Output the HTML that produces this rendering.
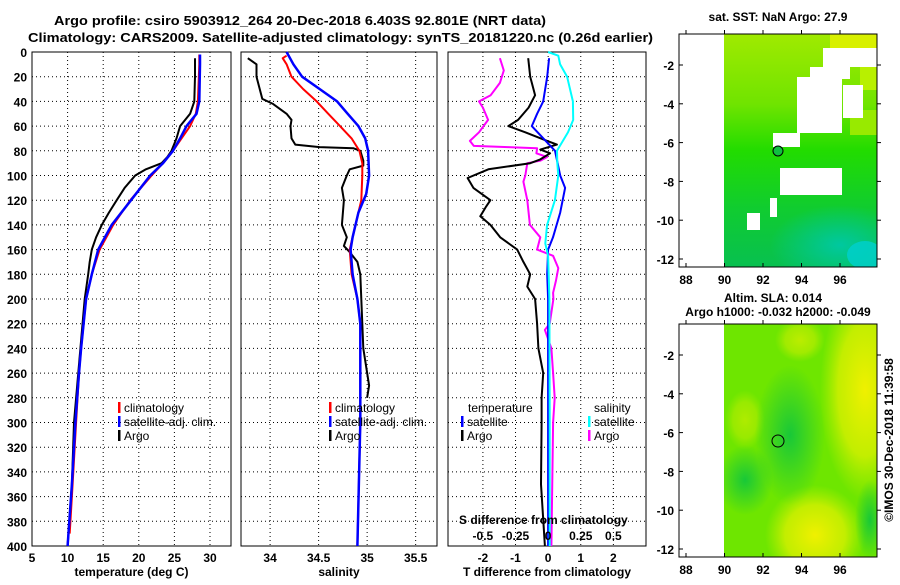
<!DOCTYPE html>
<html><head><meta charset="utf-8"><style>
html,body{margin:0;padding:0;background:#fff;}
svg text{font-family:"Liberation Sans",sans-serif;fill:#000;}
.t{font-size:13px;font-weight:bold;}
.tk{font-size:12px;font-weight:bold;}
.lg{font-size:12px;}
</style></head><body>
<svg id="s" width="900" height="580" xmlns="http://www.w3.org/2000/svg">
<defs>
<linearGradient id="g1" x1="0" y1="0" x2="0" y2="1">
<stop offset="0" stop-color="#a0ea00"/><stop offset="0.3" stop-color="#70e400"/><stop offset="0.5" stop-color="#22dc00"/><stop offset="0.75" stop-color="#10cc30"/><stop offset="1" stop-color="#08c050"/></linearGradient>
<radialGradient id="cy" cx="0.5" cy="0.5" r="0.5"><stop offset="0" stop-color="#00c8a0"/><stop offset="1" stop-color="#00c8a0" stop-opacity="0"/></radialGradient>
<radialGradient id="yl" cx="0.5" cy="0.5" r="0.5"><stop offset="0" stop-color="#f0f000"/><stop offset="0.6" stop-color="#d8f000" stop-opacity="0.8"/><stop offset="1" stop-color="#c0f000" stop-opacity="0"/></radialGradient>
<radialGradient id="dg" cx="0.5" cy="0.5" r="0.5"><stop offset="0" stop-color="#18c838"/><stop offset="1" stop-color="#18c838" stop-opacity="0"/></radialGradient>
<clipPath id="c1"><rect x="724" y="34" width="153" height="233"/></clipPath>
<clipPath id="c2"><rect x="724" y="324" width="153" height="233"/></clipPath>
</defs>
<text class="t" x="54" y="25" textLength="492" lengthAdjust="spacingAndGlyphs">Argo profile: csiro 5903912_264 20-Dec-2018 6.403S 92.801E (NRT data)</text>
<text class="t" x="28" y="42" textLength="625" lengthAdjust="spacingAndGlyphs">Climatology: CARS2009. Satellite-adjusted climatology: synTS_20181220.nc (0.26d earlier)</text>
<g id="plots"></g>
<g id="maps">
<rect x="679" y="34" width="198" height="233" fill="#fff" stroke="#000"/>
<g clip-path="url(#c1)">
<rect x="724" y="34" width="153" height="233" fill="url(#g1)"/>
<rect x="830" y="34" width="47" height="22" fill="#d8f000"/>
<rect x="860" y="65" width="17" height="25" fill="#b8f000"/>
<rect x="850" y="110" width="27" height="25" fill="#98ea00"/>
<ellipse cx="840" cy="245" rx="70" ry="40" fill="url(#cy)"/>
<ellipse cx="865" cy="255" rx="18" ry="14" fill="#00d0d0" opacity="0.8"/>
<rect x="823" y="48" width="54" height="19" fill="#fff"/>
<rect x="797" y="77" width="45" height="56" fill="#fff"/>
<rect x="810" y="67" width="40" height="12" fill="#fff"/>
<rect x="843" y="85" width="20" height="33" fill="#fff"/>
<rect x="773" y="133" width="27" height="14" fill="#fff"/>
<rect x="780" y="168" width="62" height="27" fill="#fff"/>
<rect x="770" y="198" width="7" height="19" fill="#fff"/>
<rect x="747" y="213" width="13" height="17" fill="#fff"/>
</g>
<rect x="679" y="34" width="198" height="233" fill="none" stroke="#000"/>
<circle cx="778" cy="151" r="5" fill="#10c040" stroke="#000"/>
<text class="tk" x="778" y="21" text-anchor="middle">sat. SST: NaN Argo: 27.9</text>
<rect x="679" y="324" width="198" height="233" fill="#fff" stroke="#000"/>
<g clip-path="url(#c2)">
<rect x="724" y="324" width="153" height="233" fill="#6ee600"/>
<ellipse cx="865" cy="390" rx="45" ry="110" fill="url(#yl)"/>
<ellipse cx="815" cy="535" rx="50" ry="50" fill="url(#yl)"/>
<ellipse cx="800" cy="340" rx="25" ry="22" fill="url(#yl)" opacity="0.6"/>
<ellipse cx="745" cy="420" rx="20" ry="30" fill="url(#yl)" opacity="0.5"/>
<ellipse cx="790" cy="435" rx="35" ry="70" fill="url(#dg)"/>
<ellipse cx="745" cy="480" rx="28" ry="35" fill="url(#dg)"/>
<ellipse cx="870" cy="520" rx="15" ry="40" fill="url(#dg)"/>
</g>
<rect x="679" y="324" width="198" height="233" fill="none" stroke="#000"/>
<circle cx="778" cy="441" r="6" fill="none" stroke="#000"/>
<text class="tk" x="773" y="302" text-anchor="middle">Altim. SLA: 0.014</text>
<text class="tk" x="778" y="316" text-anchor="middle">Argo h1000: -0.032 h2000: -0.049</text>
<text class="tk" transform="translate(893,440) rotate(-90)" text-anchor="middle">©IMOS 30-Dec-2018 11:39:58</text>
</g>
<g id="mapaxes"></g>
</svg>
<script>
const depthTicks=[0,20,40,60,80,100,120,140,160,180,200,220,240,260,280,300,320,340,360,380,400];
const tempTicks=[5,10,15,20,25,30];
const salTicks=[34,34.5,35,35.5];
const tdTicks=[-2,-1,0,1,2];
const sdTicks=[-0.5,-0.25,0,0.25,0.5];
const sdTickLabels=["-0.5","-0.25","0","0.25","0.5"];
const tempClimDepth=[2,10,40,50,60,70,80,90,100,120,140,160,180,200,240,260,300,350,390];
const tempClim=[28.5,28.5,28.3,28.0,27.2,26.0,24.8,23.4,21.8,18.8,16.4,14.5,13.4,12.6,11.9,11.6,11.2,10.7,10.3];
const tempSatDepth=[2,10,40,50,60,70,80,90,100,120,140,160,180,200,240,260,300,350,400];
const tempSat=[28.6,28.6,28.5,28.1,26.7,25.8,24.8,23.4,21.6,18.9,16.2,14.3,13.4,12.6,11.9,11.6,11.1,10.6,10.0];
const tempArgoDepth=[5,20,40,50,60,70,80,85,90,95,100,110,120,130,140,150,160,170,180,200,240,300,350,400];
const tempArgo=[27.9,27.9,27.8,27.2,25.8,25.3,24.6,24.0,23.2,21.0,19.5,18.0,16.9,15.8,14.8,14.0,13.4,13.1,12.9,12.4,11.8,10.9,10.6,10.0];
const salClimDepth=[3,5,10,20,30,40,50,60,70,80,90,100,120,140,160,180,200,220,300,400];
const salClim=[34.17,34.13,34.17,34.22,34.34,34.48,34.60,34.72,34.84,34.92,34.95,34.95,34.94,34.88,34.82,34.84,34.90,34.93,34.93,34.90];
const salSatDepth=[0,10,20,30,40,50,60,70,80,100,115,130,150,160,180,200,220,300,400];
const salSat=[34.17,34.24,34.33,34.51,34.69,34.80,34.91,34.98,35.01,35.02,34.99,34.91,34.85,34.83,34.85,34.90,34.93,34.93,34.90];
const salArgoDepth=[5,10,20,38,42,50,55,60,70,75,77,78,80,88,92,95,100,110,120,140,150,157,162,170,180,200,240,270,280];
const salArgo=[33.77,33.86,33.86,33.92,34.03,34.17,34.22,34.21,34.22,34.26,34.51,34.86,34.93,34.96,34.96,34.82,34.79,34.74,34.76,34.74,34.79,34.76,34.82,34.90,34.93,34.94,34.96,35.02,35.00];
const tdSatDepth=[5,20,40,50,60,80,100,110,130,150,160,180,200,300,400];
const tdSat=[0.03,-0.03,-0.15,-0.34,-0.5,0.21,0.37,0.52,0.37,0.15,0,-0.03,0,0,0];
const tdArgoDepth=[5,20,35,45,55,60,65,72,75,79,82,87,90,95,102,110,120,125,133,140,150,160,170,180,190,200,220,240,260,280,300,350,400];
const tdArgo=[-0.61,-0.55,-0.40,-0.6,-0.92,-1.22,-0.7,-0.03,0.27,-0.24,0.06,-0.24,-0.55,-1.83,-2.47,-2.29,-1.77,-1.9,-2.08,-1.77,-1.47,-0.95,-0.76,-0.55,-0.64,-0.4,-0.34,-0.3,-0.15,-0.2,-0.2,-0.22,-0.1];
const sdSatDepth=[0,3,10,20,40,55,65,80,90,100,120,140,155,165,200,300,400];
const sdSat=[0,0.078,0.092,0.145,0.19,0.192,0.152,0.068,0.07,0.078,0.052,-0.008,-0.022,0,0.01,0.012,0.012];
const sdArgoDepth=[5,15,25,35,40,45,55,65,72,76,77,78,82,85,88,90,100,105,120,140,150,160,165,175,185,195,200,220,225,240,260,280,300,400];
const sdArgo=[-0.37,-0.34,-0.37,-0.44,-0.53,-0.5,-0.46,-0.53,-0.6,-0.57,-0.31,-0.085,-0.09,-0.008,-0.06,-0.16,-0.175,-0.19,-0.16,-0.14,-0.06,-0.085,0.038,0.078,0.06,0.038,0.04,0.012,-0.025,0.025,0.038,0.05,0.038,0.025];
const lonTicks=[88,90,92,94,96];
const latTicks=[-2,-4,-6,-8,-10,-12];

const NS="http://www.w3.org/2000/svg";
const TOP=52,BOT=546;
const yD=d=>TOP+(d/400)*(BOT-TOP);
const P1={x0:32,x1:231,min:5,max:32.95};
const P2={x0:241,x1:437,min:33.7,max:35.72};
const P3={x0:448,x1:646,min:-3.07,max:3.0};
const sx=(p,v)=>p.x0+(v-p.min)/(p.max-p.min)*(p.x1-p.x0);
const sxS=v=>sx(P3,v*4);
const G=document.getElementById('plots');
function mk(tag,attrs,parent){const e=document.createElementNS(NS,tag);for(const k in attrs)e.setAttribute(k,attrs[k]);(parent||G).appendChild(e);return e;}
function frame(p,name,ticks,labels,xlabel){
  const g=mk('g',{});
  
  
  depthTicks.forEach(d=>{
    const l=mk('line',{x1:p.x0,x2:p.x1,y1:yD(d),y2:yD(d),stroke:'#000','stroke-dasharray':'1,3','stroke-width':1},g);
    
    
  });
  ticks.forEach((v,i)=>{
    const x=sx(p,v);
    const l=mk('line',{x1:x,x2:x,y1:TOP,y2:BOT,stroke:'#000','stroke-dasharray':'1,3','stroke-width':1},g);
    
    
    const t=mk('text',{x:x,y:BOT+16,'text-anchor':'middle',class:'tk'},g);
    t.textContent=labels[i];
    
    
  });
  const r=mk('rect',{x:p.x0,y:TOP,width:p.x1-p.x0,height:BOT-TOP,fill:'none',stroke:'#000','stroke-width':1},g);
  
  
  const xl=mk('text',{x:(p.x0+p.x1)/2,y:BOT+30,'text-anchor':'middle',class:'tk'},g);
  xl.textContent=xlabel;
  
  
  return g;
}
function line(depths,vals,xf,color,name,w){
  const pts=depths.map((d,i)=>xf(vals[i]).toFixed(1)+','+yD(d).toFixed(1)).join(' ');
  const e=mk('polyline',{points:pts,fill:'none',stroke:color,'stroke-width':w||2,'stroke-linejoin':'round'});
  
  
}
function txt(x,y,s,name,cls){const t=mk('text',{x:x,y:y,class:cls||'lg'});t.textContent=s;
  
  
  return t;}
function mark(x,y,color,name){const r=mk('rect',{x:x,y:y-10,width:2.5,height:11,fill:color});
  
  }

depthTicks.forEach(d=>{const t=mk('text',{x:27,y:yD(d)+5,'text-anchor':'end',class:'tk'});t.textContent=d;
  
  });

frame(P1,'temperature-panel',tempTicks,tempTicks.map(String),'temperature (deg C)');
frame(P2,'salinity-panel',salTicks,salTicks.map(String),'salinity');
frame(P3,'difference-panel',tdTicks,tdTicks.map(String),'T difference from climatology');

const f1=v=>sx(P1,v),f2=v=>sx(P2,v),f3=v=>sx(P3,v);
line(tempArgoDepth,tempArgo,f1,'#000','temp-argo-line');
line(tempClimDepth,tempClim,f1,'#f00','temp-climatology-line');
line(tempSatDepth,tempSat,f1,'#00f','temp-satellite-line',2.5);
line(salArgoDepth,salArgo,f2,'#000','sal-argo-line');
line(salClimDepth,salClim,f2,'#f00','sal-climatology-line');
line(salSatDepth,salSat,f2,'#00f','sal-satellite-line',2.5);
line(sdArgoDepth,sdArgo,sxS,'#f0f','sdiff-argo-line');
line(tdArgoDepth,tdArgo,f3,'#000','tdiff-argo-line');
line(tdSatDepth,tdSat,f3,'#00f','tdiff-satellite-line');
line(sdSatDepth,sdSat,sxS,'#0ff','sdiff-satellite-line');

txt(459,524,'S difference from climatology','sdiff-axis-title','tk');
sdTicks.forEach((v,i)=>{const t=mk('text',{x:sxS(v),y:540,'text-anchor':'middle',class:'tk'});t.textContent=sdTickLabels[i];
  
  });

[[P1,118],[P2,329]].forEach(([p,lx],k)=>{
  const pre=k?'sal':'temp';
  mark(lx,412,'#f00',pre+'-legend-clim-marker');txt(lx+6,412,'climatology',pre+'-legend-climatology');
  mark(lx,426,'#00f',pre+'-legend-sat-marker');txt(lx+6,426,'satellite-adj. clim.',pre+'-legend-satellite');
  mark(lx,440,'#000',pre+'-legend-argo-marker');txt(lx+6,440,'Argo',pre+'-legend-argo');
});
txt(468,412,'temperature','diff-legend-temperature-heading');
mark(461,426,'#00f','diff-legend-tsat-marker');txt(467,426,'satellite','diff-legend-t-satellite');
mark(461,440,'#000','diff-legend-targo-marker');txt(467,440,'Argo','diff-legend-t-argo');
txt(594,412,'salinity','diff-legend-salinity-heading');
mark(588,426,'#0ff','diff-legend-ssat-marker');txt(594,426,'satellite','diff-legend-s-satellite');
mark(588,440,'#f0f','diff-legend-sargo-marker');txt(594,440,'Argo','diff-legend-s-argo');

const MA=document.getElementById('mapaxes');
const lonX=l=>686+(l-88)*19.25;
[[34,267,65],[324,557,355]].forEach(([y0,y1,lat2],m)=>{
  const latY=l=>lat2+(-2-l)*19.4;
  lonTicks.forEach(l=>{
    mk('line',{x1:lonX(l),x2:lonX(l),y1:y1,y2:y1-4,stroke:'#000'},MA);
    mk('line',{x1:lonX(l),x2:lonX(l),y1:y0,y2:y0-4,stroke:'#000'},MA);
    const t=mk('text',{x:lonX(l),y:y1+17,'text-anchor':'middle',class:'tk'},MA);t.textContent=l;
    
    
  });
  latTicks.forEach(l=>{
    mk('line',{x1:679,x2:683,y1:latY(l),y2:latY(l),stroke:'#000'},MA);
    mk('line',{x1:877,x2:881,y1:latY(l),y2:latY(l),stroke:'#000'},MA);
    const t=mk('text',{x:674,y:latY(l)+5,'text-anchor':'end',class:'tk'},MA);t.textContent=l;
    
    
  });
});
</script>
</body></html>
